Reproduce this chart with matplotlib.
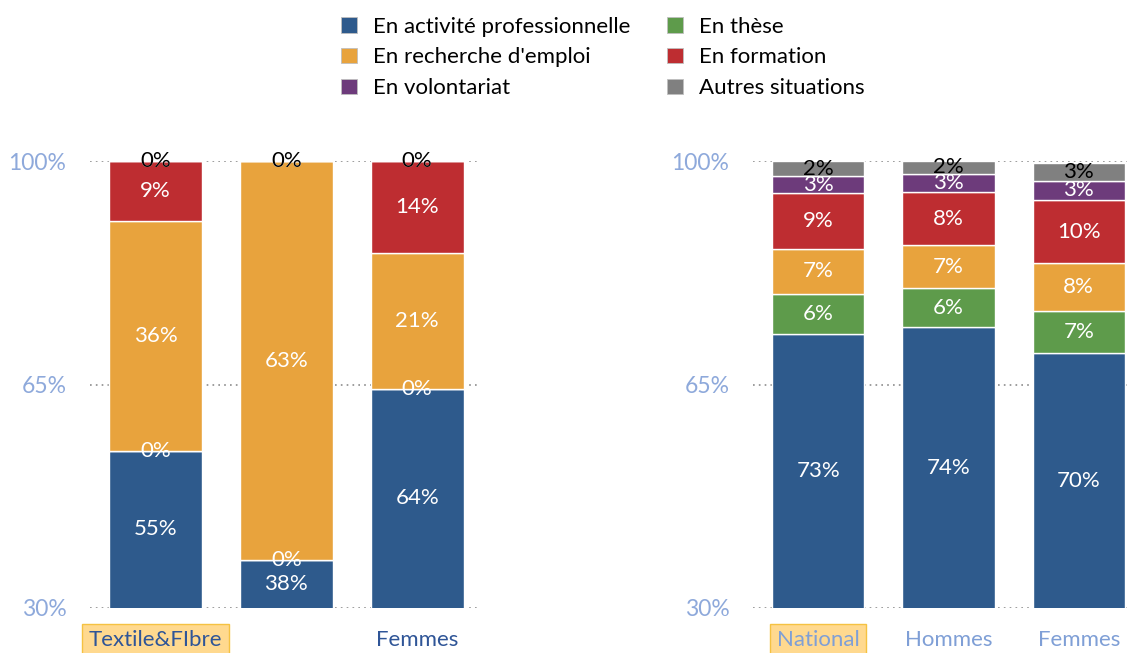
import matplotlib
matplotlib.use("Agg")
import matplotlib.pyplot as plt
from matplotlib.patches import Patch

plt.rcParams['font.family'] = ['Lato', 'DejaVu Sans']

series = ["En activité professionnelle", "En thèse", "En recherche d'emploi",
          "En formation", "En volontariat", "Autres situations"]
colors = ["#2E5A8C", "#5E9B4B", "#E8A33D", "#BE2D31", "#6D3B7B", "#808080"]
label_colors = ["white", "white", "white", "white", "white", "black"]

left_categories = ["Textile&FIbre", "", "Femmes"]
left_values = {
    "En activité professionnelle": [54.6, 37.5, 64.3],
    "En thèse": [0.0, 0.0, 0.0],
    "En recherche d'emploi": [36.0, 62.5, 21.3],
    "En formation": [9.4, 0.0, 14.4],
    "En volontariat": [0.0, 0.0, 0.0],
    "Autres situations": [0.0, 0.0, 0.0],
}

right_categories = ["National", "Hommes", "Femmes"]
right_values = {
    "En activité professionnelle": [72.9, 74.0, 69.9],
    "En thèse": [6.3, 6.1, 6.6],
    "En recherche d'emploi": [7.0, 6.7, 7.5],
    "En formation": [8.8, 8.3, 9.9],
    "En volontariat": [2.6, 2.9, 3.0],
    "Autres situations": [2.4, 2.0, 2.8],
}

yticks = [30, 65, 100]
ymin, ymax = 30, 100

W, H = 1127, 653
fig = plt.figure(figsize=(W / 100, H / 100), dpi=100)
FS = 16


def pct(v):
    return f"{int(v + 0.5)}%"


def draw(ax, cats, vals, xmax, tick_color):
    x = list(range(len(cats)))
    bottoms = [0.0] * len(cats)
    for s, c, lc in zip(series, colors, label_colors):
        v = vals[s]
        ax.bar(x, v, bottom=bottoms, width=0.71, color=c,
               edgecolor="white", linewidth=1.0, zorder=3)
        for i in x:
            lo = max(bottoms[i], ymin)
            hi = bottoms[i] + v[i]
            yc = (lo + hi) / 2
            ax.text(i, yc, pct(v[i]), ha="center", va="center",
                    color=lc, fontsize=FS, zorder=5)
        bottoms = [b + vv for b, vv in zip(bottoms, v)]
    ax.set_ylim(ymin, ymax)
    ax.set_xlim(-0.5, xmax)
    ax.set_yticks(yticks)
    ax.set_yticklabels([f"{t}%" for t in yticks], color="#8EA9DB", fontsize=FS + 0.5)
    for t in yticks:
        ax.axhline(t, color="#8C8C8C", linestyle=(0, (1, 2.5)), linewidth=1.2, zorder=1)
    ax.set_xticks(x)
    ax.set_xticklabels(cats, color=tick_color, fontsize=FS)
    ax.tick_params(length=0, axis="y", pad=17)
    ax.tick_params(length=0, axis="x", pad=16)
    for sp in ax.spines.values():
        sp.set_visible(False)
    lbl = ax.get_xticklabels()[0]
    lbl.set_bbox(dict(boxstyle="square,pad=0.3", facecolor="#FFD98F",
                      edgecolor="#F5C242", linewidth=1))


ax1 = fig.add_axes([90 / W, 45 / H, 390 / W, 447 / H])
draw(ax1, left_categories, left_values, 2.48, "#2F5597")
ax2 = fig.add_axes([753 / W, 45 / H, 374 / W, 447 / H])
draw(ax2, right_categories, right_values, 2.37, "#7F9FD6")

order = [0, 2, 4, 1, 3, 5]
handles = [Patch(facecolor=colors[i], edgecolor="#BFBFBF", linewidth=0.6) for i in order]
labels = [series[i] for i in order]
fig.legend(handles, labels, ncol=2, loc="upper center", bbox_to_anchor=(603 / W, 1.005),
           frameon=False, fontsize=FS, handlelength=0.7, handleheight=0.7,
           handletextpad=0.75, columnspacing=1.64, labelspacing=0.48)

fig.savefig("out.png", dpi=100)
